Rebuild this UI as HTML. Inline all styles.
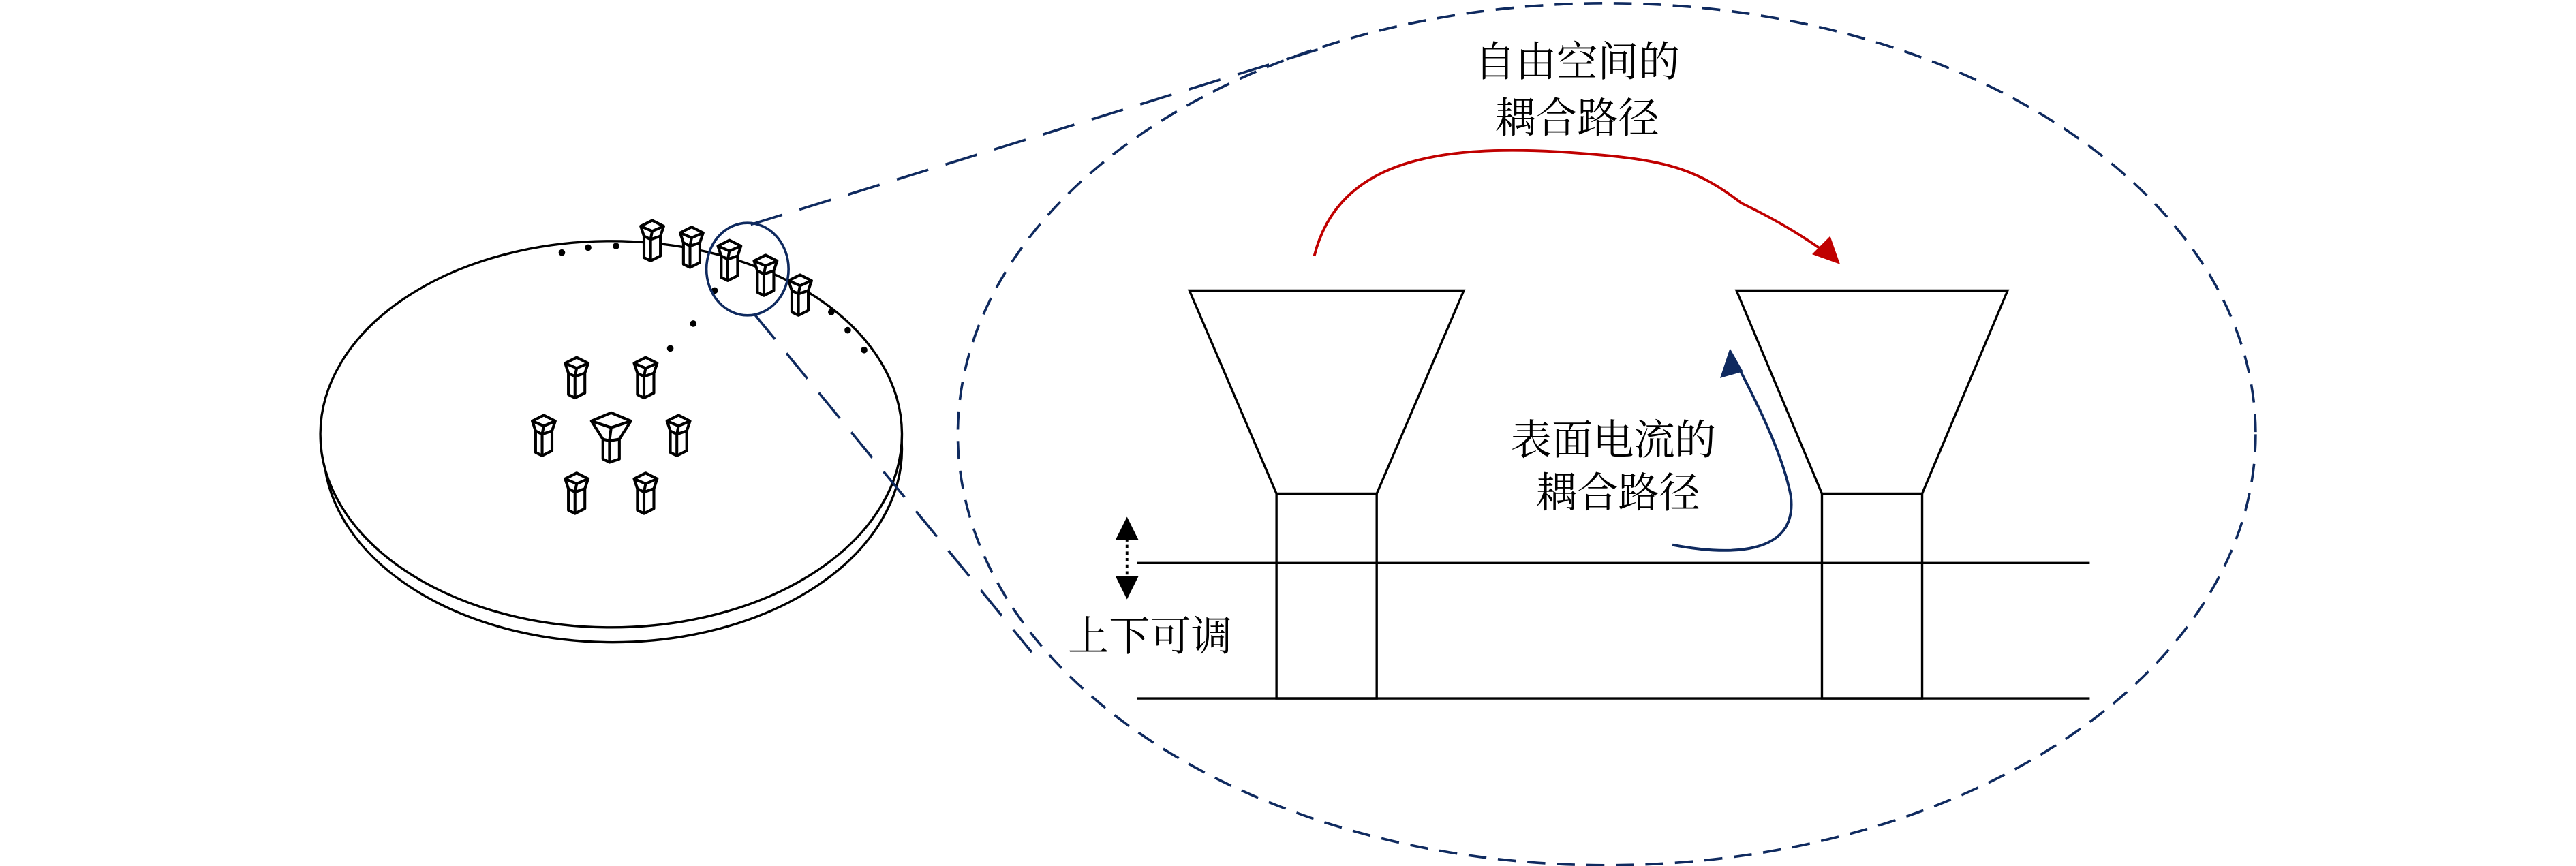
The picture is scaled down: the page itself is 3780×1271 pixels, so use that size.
<!DOCTYPE html>
<html><head><meta charset="utf-8"><style>
html,body{margin:0;padding:0;background:#fff;}
svg{display:block;}
text{font-family:"Liberation Serif","Noto Serif CJK SC",serif;fill:#000;}
</style></head><body>
<svg width="3780" height="1271" viewBox="0 0 1568 524.5" preserveAspectRatio="none" xmlns="http://www.w3.org/2000/svg">
<defs>
<g id="ant" fill="#fff" stroke="#000" stroke-width="1.7" stroke-linejoin="round">
<polygon points="-7,-8 0,-11.5 7,-8 5,-2 5,10 -1,13 -5,11 -5,-2"/>
<polyline points="-7,-8 0,-5 7,-8" fill="none"/>
<polyline points="0,-5 -1,0 -1,13" fill="none"/>
<polyline points="-5,-2 -1,0 5,-2" fill="none"/>
</g>
<g id="ant2" fill="#fff" stroke="#000" stroke-width="1.7" stroke-linejoin="round">
<polygon points="-12,-7 0,-12 12,-7 5,4 5,16 -1,18 -5,16 -5,4"/>
<polyline points="-12,-7 0,-3 12,-7" fill="none"/>
<polyline points="0,-3 -1,5 -1,18" fill="none"/>
<polyline points="-5,4 -1,5 5,4" fill="none"/>
</g>
</defs>
<ellipse cx="373" cy="272" rx="176" ry="117" fill="none" stroke="#000" stroke-width="1.4"/>
<ellipse cx="372" cy="263" rx="177" ry="117" fill="#fff" stroke="#000" stroke-width="1.4"/>
<g fill="#000">
<circle cx="342" cy="153" r="2"/><circle cx="358" cy="150" r="2"/><circle cx="375" cy="149" r="2"/>
<circle cx="435" cy="176" r="2"/><circle cx="422" cy="196" r="2"/><circle cx="408" cy="211" r="2"/>
<circle cx="506" cy="189" r="2"/><circle cx="516" cy="200" r="2"/><circle cx="526" cy="212" r="2"/>
</g>
<use href="#ant" x="397" y="145"/><use href="#ant" x="421" y="149"/><use href="#ant" x="444" y="157"/>
<use href="#ant" x="466" y="166"/><use href="#ant" x="487" y="178"/>
<use href="#ant" x="351" y="228"/><use href="#ant" x="393" y="228"/>
<use href="#ant" x="331" y="263"/><use href="#ant" x="413" y="263"/>
<use href="#ant" x="351" y="298"/><use href="#ant" x="393" y="298"/>
<use href="#ant2" x="372" y="262"/>
<ellipse cx="455" cy="163" rx="25" ry="28" fill="none" stroke="#0f2a5f" stroke-width="1.5"/>
<g stroke="#0f2a5f" stroke-width="1.5" fill="none">
<line x1="457" y1="136" x2="812" y2="27" stroke-dasharray="20,11"/>
<line x1="459" y1="190" x2="628" y2="395" stroke-dasharray="20,11"/>
<ellipse cx="978" cy="263" rx="395" ry="261" stroke-dasharray="11,7"/>
</g>
<g stroke="#000" stroke-width="1.4" fill="none">
<polygon points="724,176 891,176 838,299 777,299"/>
<rect x="777" y="299" width="61" height="124"/>
<polygon points="1057,176 1222,176 1170,299 1109,299"/>
<rect x="1109" y="299" width="61" height="124"/>
<line x1="692" y1="341" x2="1272" y2="341"/>
<line x1="692" y1="423" x2="1272" y2="423"/>
<line x1="686" y1="326" x2="686" y2="350" stroke-dasharray="2,2" stroke-width="1.6"/>
</g>
<polygon points="686,313 679,327 693,327" fill="#000"/>
<polygon points="686,363 679,349 693,349" fill="#000"/>
<path d="M800,155 C815,95 880,88 950,92 C1010,96 1030,100 1060,123 C1085,135 1100,145 1110,152" fill="none" stroke="#c00000" stroke-width="1.6"/>
<polygon points="1120,160 1103,154 1114,143" fill="#c00000"/>
<path d="M1018,330 C1050,336 1095,338 1090,300 C1085,275 1070,245 1058,222" fill="none" stroke="#0f2a5f" stroke-width="1.6"/>
<polygon points="1053,211 1047,229 1061,225" fill="#0f2a5f"/>
<g font-size="25" text-anchor="middle">
<text x="960" y="46">自由空间的</text>
<text x="960" y="80">耦合路径</text>
<text x="982" y="275">表面电流的</text>
<text x="985" y="307">耦合路径</text>
<text x="700" y="394">上下可调</text>
</g>
</svg>
</body></html>
